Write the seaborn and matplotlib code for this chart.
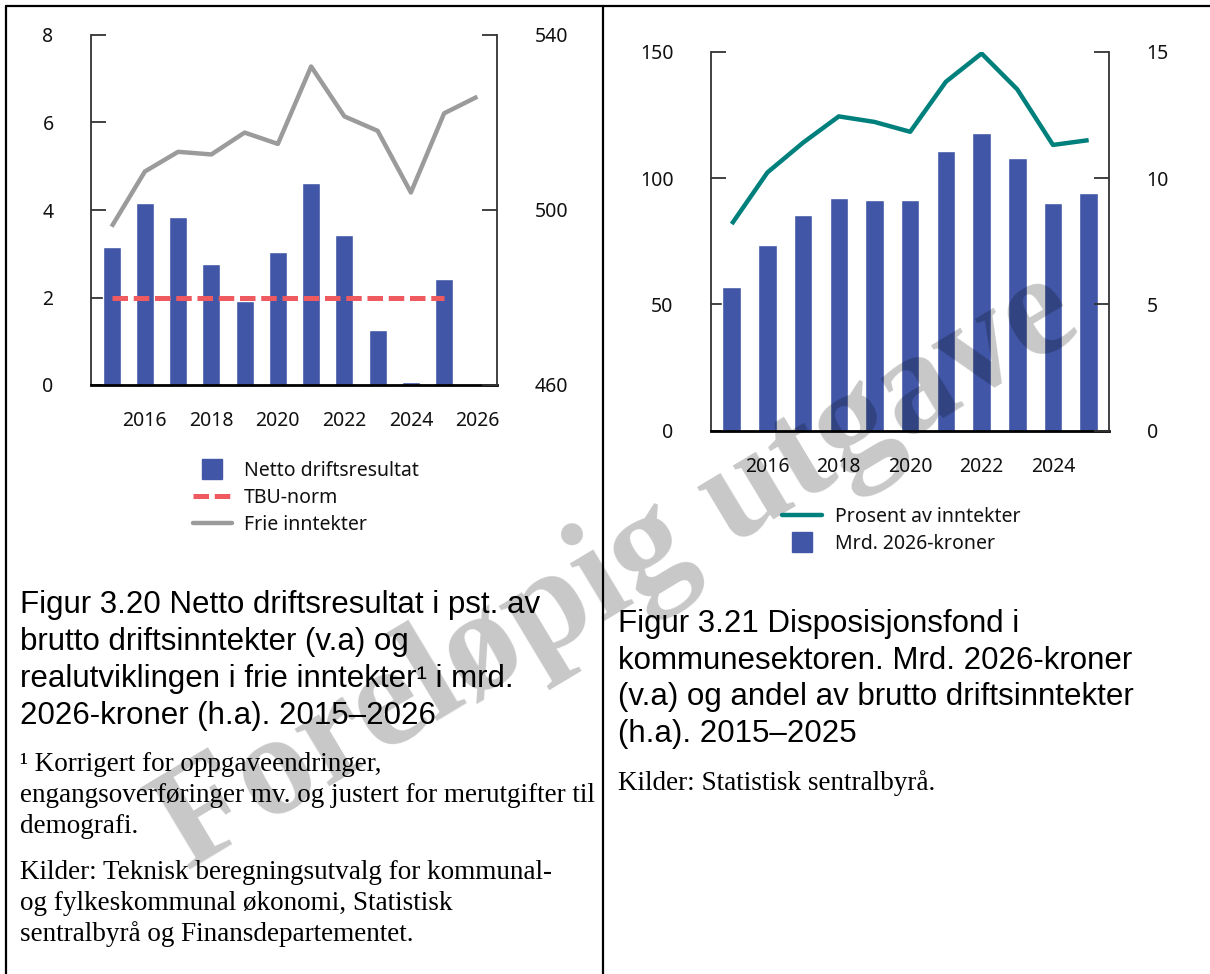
import numpy as np
import pandas as pd
import matplotlib
matplotlib.use("Agg")
import matplotlib.pyplot as plt
import seaborn as sns
from matplotlib.lines import Line2D

# Figur 3.20: netto driftsresultat (v.a) og frie inntekter (h.a)
years_a = [2015, 2016, 2017, 2018, 2019, 2020, 2021, 2022, 2023, 2024, 2025, 2026]
netto_driftsresultat = [3.15, 4.16, 3.84, 2.77, 1.92, 3.04, 4.62, 3.43, 1.26, 0.07, 2.42, np.nan]
tbu_norm = [2, 2, 2, 2, 2, 2, 2, 2, 2, 2, 2, np.nan]
frie_inntekter = [496.2, 508.8, 513.3, 512.7, 517.7, 515.1, 532.8, 521.4, 518.1, 504.0, 522.1, 525.9]

# Figur 3.21: disposisjonsfond
years_b = [2015, 2016, 2017, 2018, 2019, 2020, 2021, 2022, 2023, 2024, 2025]
fond_mrd = [56.9, 73.5, 85.4, 92.1, 91.3, 91.3, 110.7, 117.8, 107.9, 90.1, 94.1]
fond_pst = [8.18, 10.22, 11.40, 12.44, 12.22, 11.83, 13.81, 14.93, 13.51, 11.31, 11.50]

caption_a = ["Figur 3.20 Netto driftsresultat i pst. av",
             "brutto driftsinntekter (v.a) og",
             "realutviklingen i frie inntekter\u00b9 i mrd.",
             "2026-kroner (h.a). 2015\u20132026"]
note_a = ["\u00b9 Korrigert for oppgaveendringer,",
          "engangsoverf\u00f8ringer mv. og justert for merutgifter til",
          "demografi."]
source_a = ["Kilder: Teknisk beregningsutvalg for kommunal-",
            "og fylkeskommunal \u00f8konomi, Statistisk",
            "sentralbyr\u00e5 og Finansdepartementet."]
caption_b = ["Figur 3.21 Disposisjonsfond i",
             "kommunesektoren. Mrd. 2026-kroner",
             "(v.a) og andel av brutto driftsinntekter",
             "(h.a). 2015\u20132025"]
source_b = ["Kilder: Statistisk sentralbyr\u00e5."]

BLUE = "#4156A6"
RED = "#EE5A5F"
GRAY = "#9B9B9B"
TEAL = "#00807D"
SPINE = "#333333"

sns.set_style("white")
plt.rcParams["font.family"] = ["Noto Sans", "DejaVu Sans"]
plt.rcParams["text.color"] = "#111111"
plt.rcParams["xtick.color"] = "#111111"
plt.rcParams["ytick.color"] = "#111111"

W, H = 1210, 974
fig = plt.figure(figsize=(W / 100, H / 100), dpi=100)


def px_box(x0, y0, x1, y1):
    return [x0 / W, 1 - y1 / H, (x1 - x0) / W, (y1 - y0) / H]


def style_axes(ax, axr):
    for a in (ax, axr):
        a.spines["top"].set_visible(False)
        a.set_xlabel("")
        a.set_ylabel("")
    ax.spines["right"].set_visible(False)
    axr.spines["left"].set_visible(False)
    axr.spines["bottom"].set_visible(False)
    ax.spines["left"].set_color(SPINE)
    ax.spines["left"].set_linewidth(1.3)
    axr.spines["right"].set_color(SPINE)
    axr.spines["right"].set_linewidth(1.3)
    ax.spines["bottom"].set_color("black")
    ax.spines["bottom"].set_linewidth(2)
    ax.tick_params(axis="y", direction="in", length=11, width=1.3, color=SPINE, pad=27, labelsize=14)
    axr.tick_params(axis="y", direction="in", length=11, width=1.3, color=SPINE, pad=27, labelsize=14)
    ax.tick_params(axis="x", length=0, pad=19, labelsize=14)


# ---- left chart
df_a = pd.DataFrame({"year": years_a, "netto": netto_driftsresultat,
                     "tbu": tbu_norm, "frie": frie_inntekter})
ax1 = fig.add_axes(px_box(91, 35, 497, 385))
sns.barplot(data=df_a, x="year", y="netto", native_scale=True, width=0.54,
            color=BLUE, saturation=1, errorbar=None, ax=ax1)
sns.lineplot(data=df_a, x="year", y="tbu", color=RED, lw=3.6, estimator=None,
             linestyle=(0, (3.1, 1.15)), ax=ax1, zorder=3)
ax1.set_ylim(0, 8)
ax1.set_yticks([0, 2, 4, 6, 8])
ax1r = ax1.twinx()
sns.lineplot(data=df_a, x="year", y="frie", color=GRAY, lw=3.2, estimator=None,
             solid_capstyle="butt", ax=ax1r)
ax1r.set_ylim(460, 540)
ax1r.set_yticks([460, 500, 540])
ax1.set_xlim(2014.38, 2026.59)
ax1.set_xticks([2016, 2018, 2020, 2022, 2024, 2026])
style_axes(ax1, ax1r)

# ---- right chart
df_b = pd.DataFrame({"year": years_b, "mrd": fond_mrd, "pst": fond_pst})
ax2 = fig.add_axes(px_box(711, 51.7, 1109, 430.7))
sns.barplot(data=df_b, x="year", y="mrd", native_scale=True, width=0.52,
            color=BLUE, saturation=1, errorbar=None, ax=ax2)
ax2.set_ylim(0, 150)
ax2.set_yticks([0, 50, 100, 150])
ax2r = ax2.twinx()
sns.lineplot(data=df_b, x="year", y="pst", color=TEAL, lw=3.2, estimator=None,
             solid_capstyle="butt", ax=ax2r)
ax2r.set_ylim(0, 15)
ax2r.set_yticks([0, 5, 10, 15])
ax2.set_xlim(2014.42, 2025.57)
ax2.set_xticks([2016, 2018, 2020, 2022, 2024])
style_axes(ax2, ax2r)

# ---- legends
fig.legend(handles=[Line2D([], [], marker="s", ms=14, color=BLUE, ls="none"),
                    Line2D([], [], color=RED, lw=3.6, ls=(0, (3.1, 1.15))),
                    Line2D([], [], color=GRAY, lw=3.2)],
           labels=["Netto driftsresultat", "TBU-norm", "Frie inntekter"],
           loc="upper left", bbox_to_anchor=(193 / W, 1 - 461 / H), frameon=False,
           fontsize=14, handlelength=1.98, handletextpad=0.64, labelspacing=0.35,
           borderpad=0, borderaxespad=0)
fig.legend(handles=[Line2D([], [], color=TEAL, lw=3.2),
                    Line2D([], [], marker="s", ms=14, color=BLUE, ls="none")],
           labels=["Prosent av inntekter", "Mrd. 2026-kroner"],
           loc="upper left", bbox_to_anchor=(782 / W, 1 - 507 / H), frameon=False,
           fontsize=14, handlelength=2.06, handletextpad=0.67, labelspacing=0.35,
           borderpad=0, borderaxespad=0)

# ---- captions and notes
for i, line in enumerate(caption_a):
    fig.text(20 / W, 1 - (613 + 36.9 * i) / H, line, family="Liberation Sans",
             fontsize=22.5, va="baseline", color="black")
for i, line in enumerate(note_a):
    fig.text(20 / W, 1 - (771 + 31 * i) / H, line, family="Liberation Serif",
             fontsize=19.5, va="baseline", color="black")
for i, line in enumerate(source_a):
    fig.text(20 / W, 1 - (879 + 31 * i) / H, line, family="Liberation Serif",
             fontsize=19.5, va="baseline", color="black")
for i, line in enumerate(caption_b):
    fig.text(618 / W, 1 - (632 + 36.7 * i) / H, line, family="Liberation Sans",
             fontsize=22.5, va="baseline", color="black")
for i, line in enumerate(source_b):
    fig.text(618 / W, 1 - (790 + 31 * i) / H, line, family="Liberation Serif",
             fontsize=19.5, va="baseline", color="black")

# ---- frame lines
frame = dict(transform=fig.transFigure, color="black", lw=1.6)
fig.add_artist(Line2D([5.5 / W, 1], [1 - 6 / H, 1 - 6 / H], **frame))
fig.add_artist(Line2D([5.5 / W, 5.5 / W], [0, 1 - 6 / H], **frame))
fig.add_artist(Line2D([603 / W, 603 / W], [0, 1 - 6 / H], **frame))

# ---- watermark
fig.text(618 / W, 1 - 572 / H, "Forel\u00f8pig utgave", family="Liberation Serif",
         weight="bold", fontsize=105, rotation=31, rotation_mode="anchor",
         ha="center", va="center", color="black", alpha=0.22)

fig.savefig("out.png", dpi=100)
